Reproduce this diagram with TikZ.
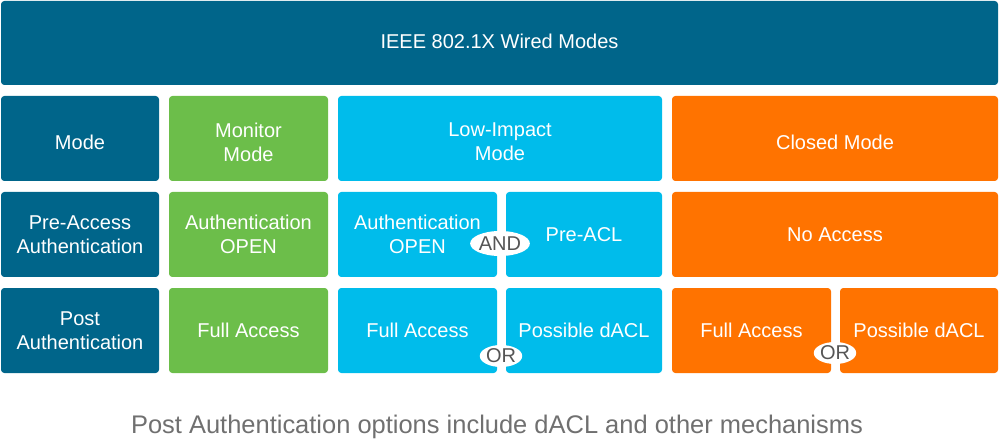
\documentclass[tikz,border=0pt]{standalone}
\usepackage{fontspec}
\setmainfont{Liberation Sans}
\usetikzlibrary{shapes.geometric}
\definecolor{cdark}{HTML}{00658A}
\definecolor{cgreen}{HTML}{6CBE4A}
\definecolor{ccyan}{HTML}{00BCEB}
\definecolor{corange}{HTML}{FF7300}
\definecolor{ctext}{HTML}{555555}
\definecolor{ccap}{HTML}{707070}
\tikzset{
  cell/.style={rectangle, rounded corners=2.5pt, inner sep=0pt, align=center,
    text=white, font=\fontsize{15}{18}\selectfont, minimum height=85*0.75pt},
  celltext/.style={text=white, align=center, inner sep=0pt,
    font=\fontsize{15}{18}\selectfont, yshift=#1},
  joiner/.style={ellipse, fill=white, inner sep=0pt, text=ctext,
    font=\fontsize{15}{18}\selectfont},
}
\begin{document}
\begin{tikzpicture}[x=0.75pt,y=-0.75pt]
\useasboundingbox (0,0) rectangle (999,445);
% header
\node[cell, fill=cdark, minimum width=997*0.75pt, minimum height=84*0.75pt,
  label={[celltext=1.5pt]center:IEEE 802.1X Wired Modes}] (top) at (499.5,43) {};
% row 2
\node[cell, fill=cdark, minimum width=158*0.75pt,
  label={[celltext=-2.6pt]center:Mode}] (mode) at (80,138.5) {};
\node[cell, fill=cgreen, minimum width=159*0.75pt,
  label={[celltext=-2.6pt]center:Monitor\\Mode}] (monitor) at (248.5,138.5) {};
\node[cell, fill=ccyan, minimum width=324*0.75pt,
  label={[celltext=-2.6pt]center:Low-Impact\\Mode}] (lowimpact) at (500,138.5) {};
\node[cell, fill=corange, minimum width=326*0.75pt,
  label={[celltext=-2.6pt]center:Closed Mode}] (closed) at (835,138.5) {};
% row 3
\node[cell, fill=cdark, minimum width=158*0.75pt] (pre) at (80,234.5) {Pre-Access\\Authentication};
\node[cell, fill=cgreen, minimum width=159*0.75pt] (monpre) at (248.5,234.5) {Authentication\\OPEN};
\node[cell, fill=ccyan, minimum width=159*0.75pt] (lipre) at (417.5,234.5) {Authentication\\OPEN};
\node[cell, fill=ccyan, minimum width=156*0.75pt] (liacl) at (584,234.5) {Pre-ACL};
\node[cell, fill=corange, minimum width=326*0.75pt] (clpre) at (835,234.5) {No Access};
% row 4
\node[cell, fill=cdark, minimum width=158*0.75pt] (post) at (80,330.5) {Post\\Authentication};
\node[cell, fill=cgreen, minimum width=159*0.75pt] (monpost) at (248.5,330.5) {Full Access};
\node[cell, fill=ccyan, minimum width=159*0.75pt] (lipost) at (417.5,330.5) {Full Access};
\node[cell, fill=ccyan, minimum width=156*0.75pt] (lidacl) at (584,330.5) {Possible dACL};
\node[cell, fill=corange, minimum width=159*0.75pt] (clpost) at (751.5,330.5) {Full Access};
\node[cell, fill=corange, minimum width=158*0.75pt] (cldacl) at (919,330.5) {Possible dACL};
% joiners
\node[joiner, minimum width=48*0.75pt, minimum height=25*0.75pt] (and) at (500,243.5) {AND};
\node[joiner, minimum width=40*0.75pt, minimum height=22*0.75pt] (or1) at (501,356) {OR};
\node[joiner, minimum width=40*0.75pt, minimum height=22*0.75pt] (or2) at (835,353) {OR};
% caption
\node[text=ccap, font=\fontsize{19.1}{22}\selectfont, inner sep=0pt] (caption) at (497,427) {Post Authentication options include dACL and other mechanisms};
\end{tikzpicture}
\end{document}
